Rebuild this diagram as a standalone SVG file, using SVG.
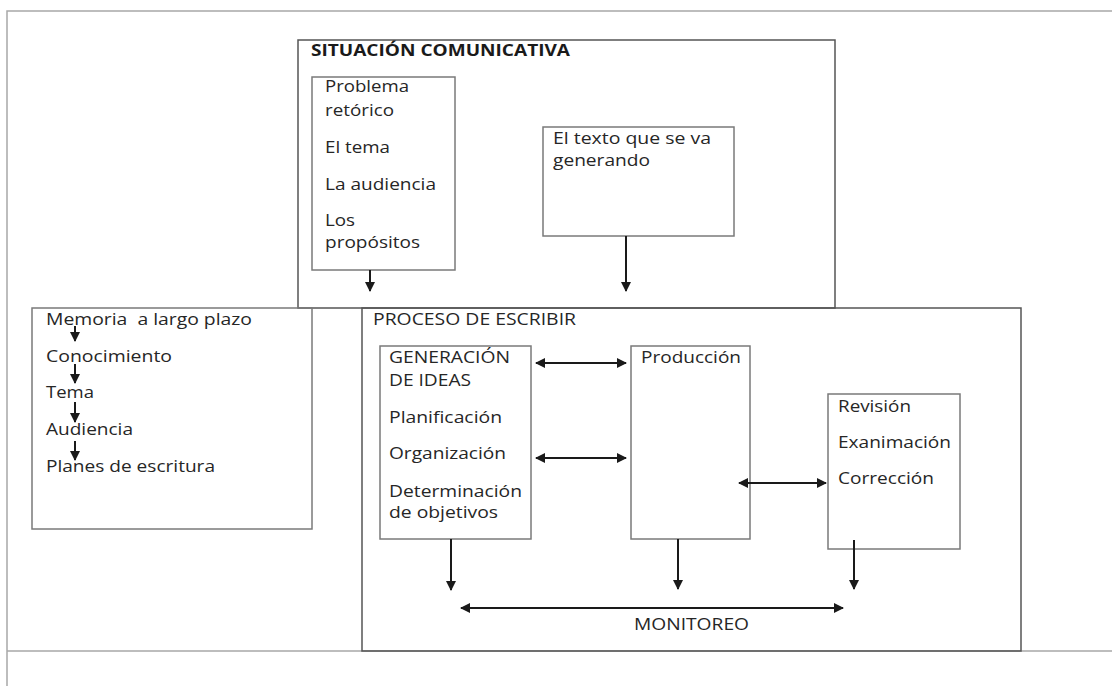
<svg xmlns="http://www.w3.org/2000/svg" width="1112" height="686" viewBox="0 0 1112 686">
<style>
.frame{fill:none;stroke:#a8a8a8;stroke-width:1.5}
.box{fill:none;stroke:#7a7a7a;stroke-width:1.5}
.big{fill:none;stroke:#555;stroke-width:1.5}
.t{font-family:"Open Sans","Liberation Sans",sans-serif;font-size:16px;fill:#262626;white-space:pre}
.b{font-weight:bold;fill:#1a1a1a}
.c{fill:none;stroke:#1a1a1a;stroke-width:2}
</style>
<defs>
<marker id="ah" viewBox="0 0 10 10" refX="9" refY="5" markerWidth="10" markerHeight="10" markerUnits="userSpaceOnUse" orient="auto-start-reverse">
<path d="M0,0 L10,5 L0,10 z" fill="#1a1a1a"/>
</marker>
</defs>
<rect x="0" y="0" width="1112" height="686" fill="#ffffff"/>
<g id="frame">
<path class="frame" d="M1112,11 H7 V686 M7,651 H1112"/>
</g>
<g id="situacion">
<rect class="big" x="298" y="40" width="537" height="268"/>
<text class="t b" x="311" y="56" textLength="259" lengthAdjust="spacingAndGlyphs">SITUACIÓN COMUNICATIVA</text>
</g>
<g id="problema">
<rect class="box" x="312" y="77" width="143" height="193"/>
<text class="t" x="325" y="92" textLength="84" lengthAdjust="spacingAndGlyphs">Problema</text>
<text class="t" x="325" y="116" textLength="69" lengthAdjust="spacingAndGlyphs">retórico</text>
<text class="t" x="325" y="153" textLength="65" lengthAdjust="spacingAndGlyphs">El tema</text>
<text class="t" x="325" y="190" textLength="111" lengthAdjust="spacingAndGlyphs">La audiencia</text>
<text class="t" x="325" y="226" textLength="30" lengthAdjust="spacingAndGlyphs">Los</text>
<text class="t" x="325" y="248" textLength="95" lengthAdjust="spacingAndGlyphs">propósitos</text>
</g>
<g id="texto">
<rect class="box" x="543" y="127" width="191" height="109"/>
<text class="t" x="553" y="144" textLength="158" lengthAdjust="spacingAndGlyphs">El texto que se va</text>
<text class="t" x="553" y="166" textLength="97" lengthAdjust="spacingAndGlyphs">generando</text>
</g>
<g id="memoria">
<rect class="box" x="32" y="308" width="280" height="221"/>
<text class="t" x="46" y="325" textLength="206" lengthAdjust="spacingAndGlyphs" xml:space="preserve">Memoria  a largo plazo</text>
<text class="t" x="46" y="362" textLength="126" lengthAdjust="spacingAndGlyphs">Conocimiento</text>
<text class="t" x="46" y="398" textLength="48" lengthAdjust="spacingAndGlyphs">Tema</text>
<text class="t" x="46" y="435" textLength="87" lengthAdjust="spacingAndGlyphs">Audiencia</text>
<text class="t" x="46" y="472" textLength="169" lengthAdjust="spacingAndGlyphs">Planes de escritura</text>
</g>
<g id="proceso">
<rect class="big" x="362" y="308" width="659" height="343"/>
<text class="t" x="373" y="325" textLength="203" lengthAdjust="spacingAndGlyphs">PROCESO DE ESCRIBIR</text>
<text class="t" x="634" y="630" textLength="115" lengthAdjust="spacingAndGlyphs">MONITOREO</text>
</g>
<g id="generacion">
<rect class="box" x="380" y="346" width="151" height="193"/>
<text class="t" x="389" y="363" textLength="121" lengthAdjust="spacingAndGlyphs">GENERACIÓN</text>
<text class="t" x="389" y="386" textLength="82" lengthAdjust="spacingAndGlyphs">DE IDEAS</text>
<text class="t" x="389" y="423" textLength="113" lengthAdjust="spacingAndGlyphs">Planificación</text>
<text class="t" x="389" y="459" textLength="117" lengthAdjust="spacingAndGlyphs">Organización</text>
<text class="t" x="389" y="497" textLength="133" lengthAdjust="spacingAndGlyphs">Determinación</text>
<text class="t" x="389" y="518" textLength="109" lengthAdjust="spacingAndGlyphs">de objetivos</text>
</g>
<g id="produccion">
<rect class="box" x="631" y="346" width="119" height="193"/>
<text class="t" x="641" y="363" textLength="100" lengthAdjust="spacingAndGlyphs">Producción</text>
</g>
<g id="revision">
<rect class="box" x="828" y="394" width="132" height="155"/>
<text class="t" x="838" y="412" textLength="73" lengthAdjust="spacingAndGlyphs">Revisión</text>
<text class="t" x="838" y="448" textLength="113" lengthAdjust="spacingAndGlyphs">Exanimación</text>
<text class="t" x="838" y="484" textLength="96" lengthAdjust="spacingAndGlyphs">Corrección</text>
</g>
<g id="connectors">
<line class="c" x1="370" y1="270" x2="370" y2="291" marker-end="url(#ah)"/>
<line class="c" x1="626" y1="236" x2="626" y2="291" marker-end="url(#ah)"/>
<line class="c" x1="75" y1="326" x2="75" y2="341" marker-end="url(#ah)"/>
<line class="c" x1="75" y1="364" x2="75" y2="383" marker-end="url(#ah)"/>
<line class="c" x1="75" y1="402" x2="75" y2="422" marker-end="url(#ah)"/>
<line class="c" x1="75" y1="441" x2="75" y2="460" marker-end="url(#ah)"/>
<line class="c" x1="536" y1="363" x2="626" y2="363" marker-start="url(#ah)" marker-end="url(#ah)"/>
<line class="c" x1="536" y1="458" x2="626" y2="458" marker-start="url(#ah)" marker-end="url(#ah)"/>
<line class="c" x1="739" y1="483" x2="826" y2="483" marker-start="url(#ah)" marker-end="url(#ah)"/>
<line class="c" x1="451" y1="539" x2="451" y2="590" marker-end="url(#ah)"/>
<line class="c" x1="678" y1="539" x2="678" y2="589" marker-end="url(#ah)"/>
<line class="c" x1="854" y1="540" x2="854" y2="589" marker-end="url(#ah)"/>
<line class="c" x1="461" y1="608" x2="843" y2="608" marker-start="url(#ah)" marker-end="url(#ah)"/>
</g>
</svg>
